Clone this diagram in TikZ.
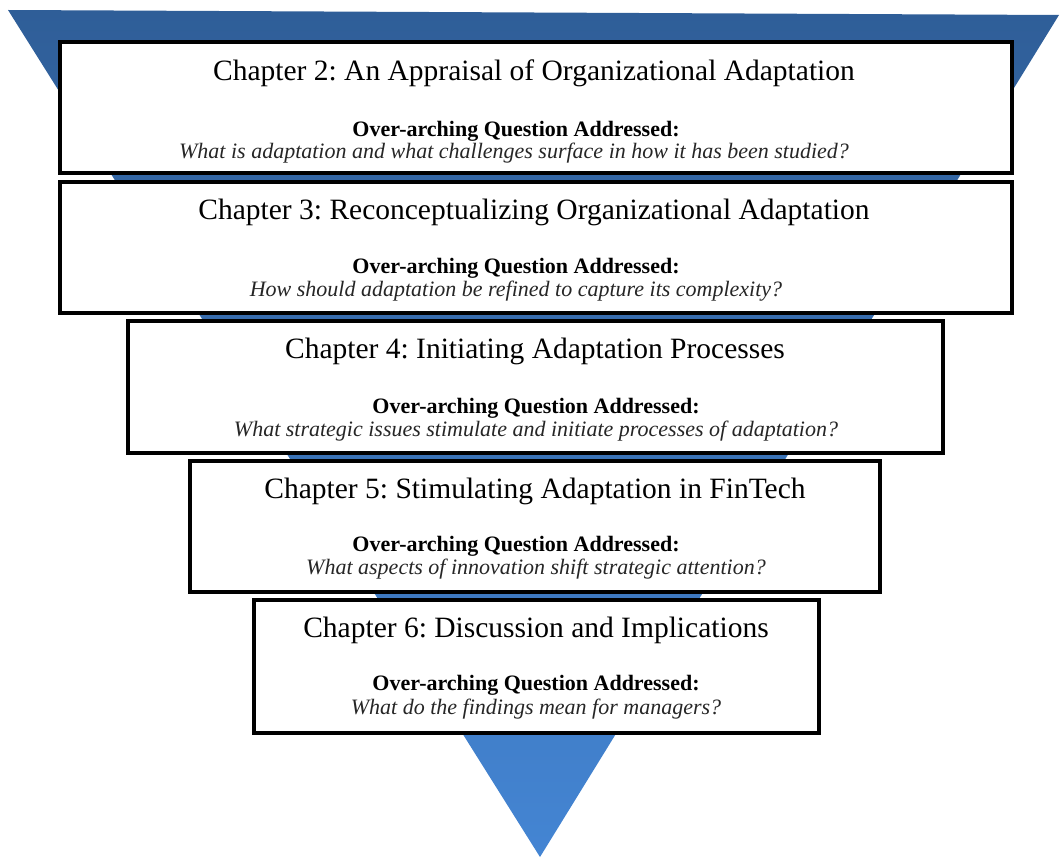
\documentclass[tikz,border=0pt]{standalone}
\usepackage{fontspec}
\setmainfont{Liberation Serif}
\frenchspacing
\begin{document}
\begin{tikzpicture}[x=1pt,y=-1pt,
  box/.style={draw=black, line width=3.5pt, fill=white, inner sep=0pt},
  ttl/.style={font=\fontsize{29.5}{33}\selectfont, inner sep=0pt, anchor=center},
  qhead/.style={font=\fontsize{22}{26}\selectfont\bfseries, inner sep=0pt, anchor=center},
  qtext/.style={font=\fontsize{22}{26}\selectfont\itshape, text=black!85, inner sep=0pt, anchor=center}]
\definecolor{tritop}{HTML}{2F5E98}
\definecolor{tribot}{HTML}{4485D3}
\useasboundingbox (0,0) rectangle (1060,861);
\coordinate (tl) at (8,10);
\coordinate (tr) at (1059,15);
\coordinate (ap) at (540,857);
\shade[top color=tritop, bottom color=tribot] (tl) -- (tr) -- (ap) -- cycle;

\node[box, minimum width=952, minimum height=131] (b1) at (536,107.5) {};
\node[box, minimum width=952, minimum height=131] (b2) at (536,247.5) {};
\node[box, minimum width=815, minimum height=132] (b3) at (535.5,387) {};
\node[box, minimum width=690, minimum height=131] (b4) at (535,526.5) {};
\node[box, minimum width=565, minimum height=133] (b5) at (536.5,666.5) {};

\node[ttl] (t1) at (534,73) {Chapter 2: An Appraisal of Organizational Adaptation};
\node[qhead] (h1) at (516,131) {Over-arching Question Addressed:};
\node[qtext] (q1) at (514,153) {What is adaptation and what challenges surface in how it has been studied?};

\node[ttl] (t2) at (534,212) {Chapter 3: Reconceptualizing Organizational Adaptation};
\node[qhead] (h2) at (516,268) {Over-arching Question Addressed:};
\node[qtext] (q2) at (516,291) {How should adaptation be refined to capture its complexity?};

\node[ttl] (t3) at (535,351) {Chapter 4: Initiating Adaptation Processes};
\node[qhead] (h3) at (536,408) {Over-arching Question Addressed:};
\node[qtext] (q3) at (536,431) {What strategic issues stimulate and initiate processes of adaptation?};

\node[ttl] (t4) at (535,491) {Chapter 5: Stimulating Adaptation in FinTech};
\node[qhead] (h4) at (516,546) {Over-arching Question Addressed:};
\node[qtext] (q4) at (536,569) {What aspects of innovation shift strategic attention?};

\node[ttl] (t5) at (536,630) {Chapter 6: Discussion and Implications};
\node[qhead] (h5) at (536,685) {Over-arching Question Addressed:};
\node[qtext] (q5) at (536,709) {What do the findings mean for managers?};
\end{tikzpicture}
\end{document}
